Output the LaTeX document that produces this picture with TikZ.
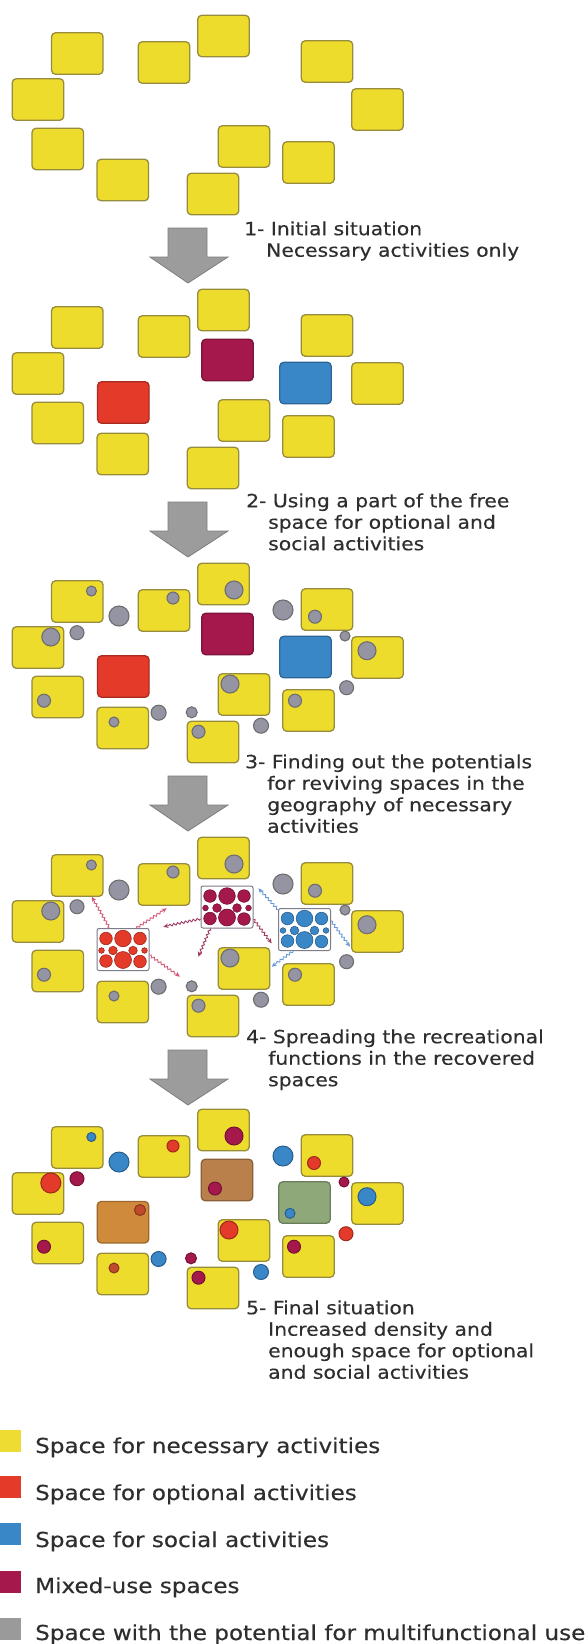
\documentclass[tikz,border=0pt]{standalone}
\usepackage{fontspec}
\usetikzlibrary{decorations.pathmorphing,arrows.meta}
\newfontfamily\lblfont[FakeStretch=1.117,FakeBold=0.3]{DejaVu Sans}
\newfontfamily\legfont[FakeStretch=1.12,FakeBold=0.3]{DejaVu Sans}
\definecolor{yel}{HTML}{EEDC2C}
\definecolor{yelb}{HTML}{978C3C}
\definecolor{colR}{HTML}{E33A2A}
\definecolor{colB}{HTML}{3A87C8}
\definecolor{colM}{HTML}{A5184C}
\definecolor{colO}{HTML}{C04A2C}
\definecolor{gfill}{HTML}{9494A2}
\definecolor{gdraw}{HTML}{6E6E70}
\definecolor{arrg}{HTML}{9C9C9C}
\definecolor{arrd}{HTML}{7E7E7E}
\definecolor{txt}{HTML}{2E2E2E}
\definecolor{sqM}{HTML}{B9804C}
\definecolor{sqR}{HTML}{D08A3C}
\definecolor{sqB}{HTML}{8FA87A}
\definecolor{wR}{HTML}{D45A78}
\definecolor{wM}{HTML}{A03A64}
\definecolor{wB}{HTML}{6A9AD6}
\definecolor{dbx}{HTML}{7C7C8A}
\definecolor{legY}{HTML}{EEDC33}
\definecolor{legG}{HTML}{9A9A9A}
\tikzset{
  ysq/.style={draw=yelb, fill=yel, line width=1.3pt, rounded corners=4pt,
    minimum width=51.5pt, minimum height=41.5pt, inner sep=0pt},
  csq/.style={ysq, fill=#1, draw=#1!75!black},
  dbox/.style={draw=dbx, fill=white, line width=1pt, rounded corners=2pt,
    minimum width=52pt, minimum height=42pt, inner sep=0pt},
  gdot/.style={circle, draw=gdraw, fill=gfill, line width=1.1pt, inner sep=0pt, minimum size=#1},
  kdot/.style={circle, line width=1pt, inner sep=0pt, minimum size=#1},
  bigarr/.style={fill=arrg, draw=arrd, line width=0.8pt, line join=miter},
  wav/.style={decorate, decoration={snake, amplitude=1.1pt, segment length=4pt, post length=4pt},
    line width=0.9pt, -{Stealth[length=5pt,width=4.5pt]}},
  steptext/.style={anchor=north west, inner sep=0pt, align=left, text=txt,
    font={\lblfont\fontsize{18.2}{21.5}\selectfont}},
  legsq/.style={minimum width=21pt, minimum height=22pt, inner sep=0pt},
  legtext/.style={anchor=base west, inner sep=0pt, text=txt,
    font={\legfont\fontsize{20.6}{24}\selectfont}}
}
\def\sqlist{1/77.3/53.5, 2/164/62.5, 3/223.5/36, 4/327/61.5, 5/38/99.5, 6/377.5/109.5, 7/57.8/149, 8/122.8/180, 9/244/146.5, 10/308.5/162.5, 11/213/194}
\def\circgray{91.4/43/5, 173/50/6, 234/42/9, 315/68.7/6.5, 50.8/89/9, 367/102.7/9, 44/152.7/6.5, 114/174/5, 230/136/9, 295/152.7/6.5, 198.5/183.7/6.5, 119/68/10, 77/84.7/7, 283/62/10, 345/88/5, 346.6/139.7/7, 158.6/164.7/7.5, 191.7/164.3/5.5, 261/177.7/7.5}
\def\circfive{91.4/43/4.5/colB, 173/52/6/colR, 234/42/9/colM, 314/69/6.5/colR, 50.8/89/10/colR, 367/102.7/9/colB, 44/152.7/6.5/colM, 114/174/5/colO, 229/136/9/colR, 294/152.7/6.5/colM, 198.5/183.7/6.5/colM, 119/68/10/colB, 77/84.7/7/colM, 283/62/10/colB, 344/88/5/colM, 346/139.7/7/colR, 158.6/165/7.5/colB, 191/164.3/5.5/colM, 261/178/7.5/colB, 215/94.5/6.5/colM, 140/116/5.5/colO, 290/119.3/5/colB}
\newcommand{\mkdotbox}[4]{%
  \node[dbox] (#1) at (#2,#3) {};
  \foreach \dx/\dy/\r in {-17/-11/6.3, 0/-11/8.3, 17/-11/6.3, -10/1/4.3, 10/1/4.3, -21.5/1/2.8, 21.5/1/2.8, -17/11.5/6.3, 0/10.5/8.5, 17/12/6.3}
    {\filldraw[fill=#4, draw=#4!70!black, line width=0.6pt] ({#2+\dx},{#3+\dy}) circle[radius=\r pt];}
}
\begin{document}
\begin{tikzpicture}[x=1pt,y=-1pt]
\useasboundingbox (0,0) rectangle (587,1644);
\fill[white] (0,0) rectangle (587,1644);

% ---------- Panel 1 ----------
\begin{scope}
  \foreach \i/\x/\y in \sqlist {\node[ysq] (a\i) at (\x,\y) {};}
\end{scope}

% ---------- Panel 2 ----------
\begin{scope}[yshift=-274pt]
  \foreach \i/\x/\y in \sqlist {\node[ysq] (b\i) at (\x,\y) {};}
  \node[csq=colM] (bM) at (227.5,86) {};
  \node[csq=colB] (bB) at (305.5,109) {};
  \node[csq=colR] (bR) at (123.3,128.5) {};
\end{scope}

% ---------- Panel 3 ----------
\begin{scope}[yshift=-548pt]
  \foreach \i/\x/\y in \sqlist {\node[ysq] (c\i) at (\x,\y) {};}
  \node[csq=colM] (cM) at (227.5,86) {};
  \node[csq=colB] (cB) at (305.5,109) {};
  \node[csq=colR] (cR) at (123.3,128.5) {};
  \foreach \x/\y/\r [count=\k] in \circgray {\node[gdot={2*\r}] (cg\k) at (\x,\y) {};}
\end{scope}

% ---------- Panel 4 ----------
\begin{scope}[yshift=-822pt]
  \foreach \i/\x/\y in \sqlist {\node[ysq] (d\i) at (\x,\y) {};}
  \foreach \x/\y/\r [count=\k] in \circgray {\node[gdot={2*\r}] (dg\k) at (\x,\y) {};}
  \mkdotbox{dM}{227}{85}{colM}
  \mkdotbox{dB}{304.5}{107.5}{colB}
  \mkdotbox{dR}{123}{127.5}{colR}
  \coordinate (wa) at (91.7,74.7);
  \coordinate (wb) at (166.7,86.3);
  \coordinate (wc) at (180,154.7);
  \coordinate (wd) at (163.3,104.7);
  \coordinate (we) at (198.3,134.7);
  \coordinate (wf) at (271.7,121.3);
  \coordinate (wg) at (258.3,66.3);
  \coordinate (wh) at (350,124.7);
  \coordinate (wi) at (271.7,144.7);
  \draw[wav, draw=wR] (dR.122) -- (wa);
  \draw[wav, draw=wR] (dR.58) -- (wb);
  \draw[wav, draw=wR] (dR.-12) -- (wc);
  \draw[wav, draw=wM] (dM.204) -- (wd);
  \draw[wav, draw=wM] (dM.232) -- (we);
  \draw[wav, draw=wM] (dM.-25) -- (wf);
  \draw[wav, draw=wB] (dB.143) -- (wg);
  \draw[wav, draw=wB] (dB.18) -- (wh);
  \draw[wav, draw=wB] (dB.242) -- (wi);
\end{scope}

% ---------- Panel 5 ----------
\begin{scope}[yshift=-1094pt]
  \foreach \i/\x/\y in \sqlist {\node[ysq] (e\i) at (\x,\y) {};}
  \node[csq=sqM] (eM) at (227,86) {};
  \node[csq=sqB] (eB) at (304.5,108.5) {};
  \node[csq=sqR] (eR) at (123,128.2) {};
  \foreach \x/\y/\r/\c [count=\k] in \circfive
    {\node[kdot={2*\r}, fill=\c, draw=\c!70!black] (ek\k) at (\x,\y) {};}
\end{scope}

% ---------- Big arrows ----------
\foreach \o in {0,274,548,822} {
  \draw[bigarr] (168,228+\o) -- (207,228+\o) -- (207,257+\o) -- (228,257+\o)
     -- (188,283+\o) -- (150,257+\o) -- (168,257+\o) -- cycle;
}

% ---------- Step texts ----------
\node[steptext] (t1) at (244,221.2) {1- Initial situation\\\hspace*{22pt}Necessary activities only};
\node[steptext] (t2) at (246,493.2) {2- Using a part of the free\\\hspace*{22pt}space for optional and\\\hspace*{22pt}social activities};
\node[steptext] (t3) at (245,754.2) {3- Finding out the potentials\\\hspace*{22pt}for reviving spaces in the\\\hspace*{22pt}geography of necessary\\\hspace*{22pt}activities};
\node[steptext] (t4) at (246,1029.2) {4- Spreading the recreational\\\hspace*{22pt}functions in the recovered\\\hspace*{22pt}spaces};
\node[steptext] (t5) at (246,1300.2) {5- Final situation\\\hspace*{22pt}Increased density and\\\hspace*{22pt}enough space for optional\\\hspace*{22pt}and social activities};

% ---------- Legend ----------
\node[legsq, fill=legY] (l1) at (10.5,1441) {};
\node[legsq, fill=colR] (l2) at (10.5,1487) {};
\node[legsq, fill=colB] (l3) at (10.5,1534) {};
\node[legsq, fill=colM] (l4) at (10.5,1582) {};
\node[legsq, fill=legG] (l5) at (10.5,1629) {};
\node[legtext] (lt1) at (35,1453) {Space for necessary activities};
\node[legtext] (lt2) at (35,1500) {Space for optional activities};
\node[legtext] (lt3) at (35,1547) {Space for social activities};
\node[legtext] (lt4) at (35,1593) {Mixed-use spaces};
\node[legtext] (lt5) at (35,1640) {Space with the potential for multifunctional use};
\end{tikzpicture}
\end{document}
